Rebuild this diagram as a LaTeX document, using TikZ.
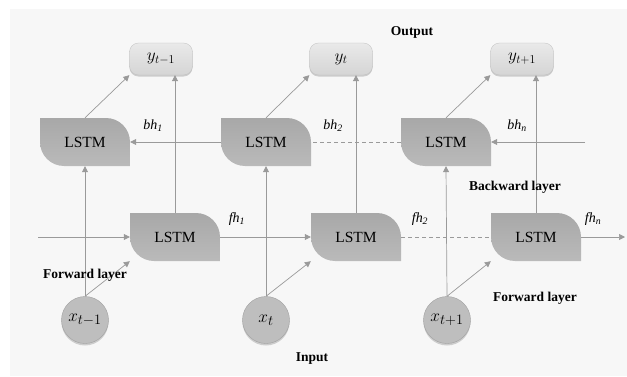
\documentclass[tikz,border=0pt]{standalone}
\usepackage{fontspec}
\setmainfont{Liberation Serif}
\usetikzlibrary{arrows.meta,shadows}

\definecolor{panel}{HTML}{F7F7F7}
\definecolor{lstmtop}{HTML}{A8A8A8}
\definecolor{lstmbot}{HTML}{BABABA}
\definecolor{outfill}{HTML}{E0E0E0}
\definecolor{infill}{HTML}{BEBEBE}
\definecolor{wire}{HTML}{9A9A9A}

\tikzset{
  lstmcell/.style={minimum width=90pt, minimum height=48pt, inner sep=0pt,
    font=\fontsize{15.5}{18}\selectfont,
    path picture={
      \shade[top color=lstmtop, bottom color=lstmbot]
        (path picture bounding box.north west)
        -- ([xshift=-24pt]path picture bounding box.north east)
        arc[start angle=90, end angle=0, radius=24pt]
        -- (path picture bounding box.south east)
        -- ([xshift=24pt]path picture bounding box.south west)
        arc[start angle=270, end angle=180, radius=24pt]
        -- cycle;
    }},
  outnode/.style={rounded corners=9pt, minimum width=63pt, minimum height=32pt,
    inner sep=0pt, top color=outfill!70!white, bottom color=outfill!95!black,
    draw=outfill!85!black, line width=0.3pt, font=\fontsize{17}{20}\selectfont,
    drop shadow={shadow xshift=0pt, shadow yshift=-1.5pt, opacity=0.35, fill=gray}},
  innode/.style={circle, minimum size=47pt, inner sep=0pt, fill=infill,
    draw=infill!85!black, line width=0.4pt, font=\fontsize{19}{22}\selectfont,
    drop shadow={shadow xshift=0pt, shadow yshift=-2pt, opacity=0.35, fill=gray}},
  wirearrow/.style={draw=wire, line width=0.7pt, -{Triangle[length=6pt,width=6pt]}},
  wiredash/.style={draw=wire, line width=0.7pt, dash pattern=on 4pt off 3pt},
  layerlabel/.style={font=\fontsize{13.5}{16}\selectfont\bfseries},
  statelabel/.style={font=\fontsize{14}{16}\selectfont\itshape},
}

\begin{document}
\begin{tikzpicture}[x=1pt, y=1pt]
  % page and panel
  \useasboundingbox (0,0) rectangle (627,376);
  \fill[white] (0,0) rectangle (627,376);
  \fill[panel] (10,0) rectangle (627,367);

  % backward cells
  \node[lstmcell] (b1) at (85,234) {LSTM};
  \node[lstmcell] (b2) at (266,234) {LSTM};
  \node[lstmcell] (b3) at (446,234) {LSTM};

  % forward cells
  \node[lstmcell] (f1) at (175,139) {LSTM};
  \node[lstmcell] (f2) at (356,139) {LSTM};
  \node[lstmcell] (f3) at (536,139) {LSTM};

  % outputs
  \node[outnode] (y1) at (161,317) {$y_{t-1}$};
  \node[outnode] (y2) at (341,317) {$y_{t}$};
  \node[outnode] (y3) at (522,317) {$y_{t+1}$};

  % inputs
  \node[innode] (x1) at (85,56) {$x_{t-1}$};
  \node[innode] (x2) at (266,56) {$x_{t}$};
  \node[innode] (x3) at (447,56) {$x_{t+1}$};

  % free ends of the two chains
  \coordinate (bin) at (585,234);
  \coordinate (fin) at (38,139);
  \coordinate (fout) at (625,139);

  % backward chain
  \draw[wirearrow] (bin) -- (b3.east);
  \draw[wiredash] (b3.west) -- (b2.east);
  \draw[wirearrow] (b2.west) -- (b1.east);

  % forward chain
  \draw[wirearrow] (fin) -- (f1.west);
  \draw[wirearrow] (f1.east) -- (f2.west);
  \draw[wiredash] (f2.east) -- (f3.west);
  \draw[wirearrow] (f3.east) -- (fout);

  % inputs into both layers, cells into outputs
  \foreach \i in {1,2,3} {
    \draw[wirearrow] (x\i.north) -- (b\i.south);
    \draw[wirearrow] (x\i.north) -- (f\i.south west);
    \draw[wirearrow] (f\i.north) -- (f\i.north |- y\i.south);
    \draw[wirearrow] (b\i.north) -- (y\i.south west);
  }

  % state labels
  \node[statelabel] (lb1) at (153,250) {bh\textsubscript{1}};
  \node[statelabel] (lb2) at (333,250) {bh\textsubscript{2}};
  \node[statelabel] (lb3) at (517,250) {bh\textsubscript{n}};
  \node[statelabel] (lf1) at (237,157) {fh\textsubscript{1}};
  \node[statelabel] (lf2) at (420,157) {fh\textsubscript{2}};
  \node[statelabel] (lf3) at (593,157) {fh\textsubscript{n}};

  % layer labels
  \node[layerlabel] (tout) at (412,344) {Output};
  \node[layerlabel] (tback) at (515,189) {Backward layer};
  \node[layerlabel] (tfwd1) at (85,101) {Forward layer};
  \node[layerlabel] (tfwd2) at (535,78) {Forward layer};
  \node[layerlabel] (tin) at (312,17) {Input};
\end{tikzpicture}
\end{document}
